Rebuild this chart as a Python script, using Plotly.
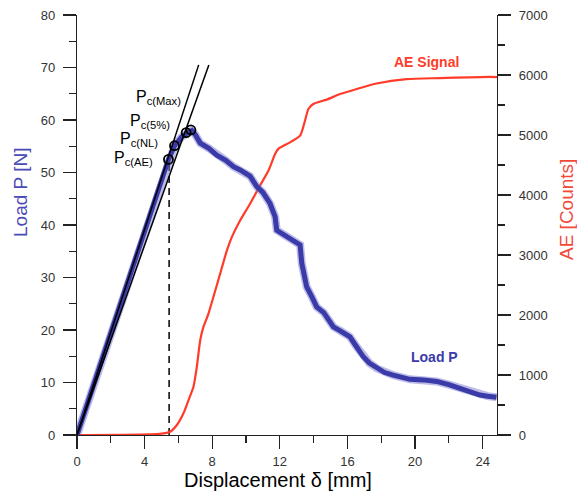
import plotly.graph_objects as go

# Load P vs displacement
disp_load = [0, 1, 2, 3, 4, 5, 5.41, 5.77, 6.2, 6.6, 6.8, 7.0, 7.29, 7.8, 8.27, 8.8, 9.26, 9.65, 10.24,
             10.64, 11.0, 11.42, 11.72, 11.82, 12.2, 12.6, 13.0, 13.2, 13.3, 13.45, 13.59, 13.9, 14.18, 14.6,
             15.17, 15.6, 16.15, 16.5, 16.94, 17.3, 17.73, 18.2, 18.71, 19.7, 20.5, 21.28, 22.0, 22.65, 23.3,
             23.84, 24.3, 24.82]
load_p = [0, 9.7, 19.4, 29.1, 38.8, 48.5, 52.5, 55.1, 56.8, 57.7, 58.0, 57.2, 55.6, 54.6, 53.3, 52.3, 51.1,
          50.5, 49.3, 47.3, 46.2, 44.1, 41.6, 39.0, 38.2, 37.5, 36.6, 36.2, 32.7, 30.0, 28.2, 26.3, 24.4, 23.3,
          20.6, 19.8, 18.7, 17.0, 14.9, 13.7, 12.7, 11.9, 11.4, 10.6, 10.5, 10.2, 9.6, 8.9, 8.3, 7.6, 7.4, 7.2]

# AE signal (cumulative counts)
disp_ae = [0, 4.9, 5.51, 5.91, 6.30, 6.60, 6.89, 7.09, 7.29, 7.48, 7.78, 8.07, 8.47, 8.87, 9.16, 9.65,
           10.24, 10.83, 11.33, 11.72, 11.91, 12.61, 13.2, 13.49, 13.69, 13.98, 14.77, 15.56, 16.55,
           17.73, 19.5, 21.47, 24.43, 24.85]
ae_counts = [0, 20, 55, 166, 361, 582, 803, 1136, 1580, 1801, 2024, 2300, 2689, 3077, 3298, 3575,
             3853, 4158, 4407, 4685, 4768, 4878, 4989, 5238, 5433, 5516, 5590, 5682, 5766,
             5859, 5932, 5949, 5970, 5965]

# Critical load points
pc_labels = ["P<sub>c(AE)</sub>", "P<sub>c(NL)</sub>", "P<sub>c(5%)</sub>", "P<sub>c(Max)</sub>"]
pc_disp = [5.41, 5.77, 6.46, 6.74]
pc_load = [52.5, 55.1, 57.6, 58.1]
pc_label_x = [4.63, 4.92, 5.61, 6.28]
pc_label_y = [52.6, 56.2, 59.8, 64.2]

# Compliance lines (initial and 5% offset)
fit1_x = [0, 7.2]
fit1_y = [0, 70.5]
fit2_x = [0, 7.8]
fit2_y = [0, 70.5]

# Onset of AE (dashed marker line)
ae_onset_x = [5.45, 5.45]
ae_onset_y = [0, 52.5]

BLUE = "#3a3aa8"
RED = "#ff3b2a"
FONT = "Arial, Liberation Sans, sans-serif"

fig = go.Figure()

fig.add_trace(go.Scatter(x=ae_onset_x, y=ae_onset_y, mode="lines",
                         line=dict(color="black", width=1.5, dash="7px,5px"),
                         xaxis="x", yaxis="y", showlegend=False))

fig.add_trace(go.Scatter(x=disp_ae, y=ae_counts, mode="lines",
                         line=dict(color=RED, width=2.2, shape="spline", smoothing=0.6),
                         xaxis="x", yaxis="y2", showlegend=False))

fig.add_trace(go.Scatter(x=disp_load, y=load_p, mode="lines",
                         line=dict(color="#7a7ad0", width=8), opacity=0.5,
                         xaxis="x", yaxis="y3", showlegend=False))
fig.add_trace(go.Scatter(x=disp_load, y=load_p, mode="lines",
                         line=dict(color=BLUE, width=5),
                         xaxis="x", yaxis="y3", showlegend=False))

fig.add_trace(go.Scatter(x=fit1_x, y=fit1_y, mode="lines", line=dict(color="black", width=1.5),
                         xaxis="x", yaxis="y3", showlegend=False))
fig.add_trace(go.Scatter(x=fit2_x, y=fit2_y, mode="lines", line=dict(color="black", width=1.5),
                         xaxis="x", yaxis="y3", showlegend=False))

fig.add_trace(go.Scatter(x=pc_disp, y=pc_load, mode="markers",
                         marker=dict(symbol="circle-open", size=9, color="black", line=dict(width=1.8)),
                         xaxis="x", yaxis="y3", showlegend=False))

for lab, lx, ly in zip(pc_labels, pc_label_x, pc_label_y):
    fig.add_annotation(x=lx, y=ly, xref="x", yref="y", text=lab, showarrow=False,
                       xanchor="right", yanchor="middle",
                       font=dict(family=FONT, size=16, color="black"))

# Series labels
fig.add_annotation(x=(426.7 - 76.7) / 16.92, y=(435 - 61.7) / 5.25, xref="x", yref="y",
                   text="<b>AE Signal</b>", showarrow=False, xanchor="center", yanchor="middle",
                   font=dict(family=FONT, size=14, color=RED))
fig.add_annotation(x=(435 - 76.7) / 16.92, y=(435 - 356.7) / 5.25, xref="x", yref="y",
                   text="<b>Load P</b>", showarrow=False, xanchor="center", yanchor="middle",
                   font=dict(family=FONT, size=14, color=BLUE))

# Page body margin is removed in the page (post_script), so the figure fills the window exactly
W, H = 577, 493
L, R, T, B = 77, 80, 15, 58
pw, ph = W - L - R, H - T - B

def px_to_paper(px, py):
    return (px - L) / pw, (H - B - py) / ph

# Axis titles as annotations for exact placement (page pixel positions)
for text, (px, py), ang, size, col in [
    ("Load P [N]", (20, 193), -90, 19, "#4a4ab8"),
    ("AE [Counts]", (566, 210), -90, 19, "#f04a3a"),
    ("Displacement δ [mm]", (278, 480), 0, 20, "black"),
]:
    ax, ay = px_to_paper(px, py)
    fig.add_annotation(x=ax, y=ay, xref="paper", yref="paper", text=text, showarrow=False,
                       xanchor="center", yanchor="middle",
                       textangle=ang, font=dict(family=FONT, size=size, color=col))

tickfont = dict(family=FONT, size=13, color="#333333")

fig.update_layout(
    template="none",
    width=W, height=H,
    margin=dict(l=L, r=R, t=T, b=B, autoexpand=False),
    paper_bgcolor="white", plot_bgcolor="white",
    xaxis=dict(range=[0, 24.85], tickvals=[0, 4, 8, 12, 16, 20, 24], ticks="outside", ticklen=13,
               tickwidth=1.2, tickcolor="#222", showline=True, linecolor="#222", linewidth=1.2,
               showgrid=False, zeroline=False, tickfont=tickfont, automargin=False,
               ticklabelstandoff=1, ticklabeloverflow="allow",
               minor=dict(dtick=2, tick0=0, ticks="outside", ticklen=7, tickcolor="#222", tickwidth=1.2,
                          showgrid=False)),
    yaxis=dict(range=[0, 80], dtick=10, ticks="outside", ticklen=13, tickwidth=1.2, tickcolor="#222",
               showline=True, linecolor="#222", linewidth=1.2, showgrid=False, zeroline=False,
               tickfont=tickfont, automargin=False, ticklabelstandoff=5, ticklabeloverflow="allow",
               minor=dict(dtick=5, ticks="outside", ticklen=7, tickcolor="#222", tickwidth=1.2,
                          showgrid=False)),
    yaxis2=dict(range=[0, 7000], dtick=1000, overlaying="y", side="right", anchor="x",
                ticks="outside", ticklen=13, tickwidth=1.2, tickcolor="#222",
                showline=True, linecolor="#222", linewidth=1.2, showgrid=False, zeroline=False,
                tickfont=tickfont, automargin=False, ticklabelstandoff=5, ticklabeloverflow="allow",
                minor=dict(dtick=500, ticks="outside", ticklen=7, tickcolor="#222", tickwidth=1.2,
                           showgrid=False)),
    yaxis3=dict(range=[0, 80], overlaying="y", visible=False, anchor="x", automargin=False),
    showlegend=False,
    hovermode=False,
)

fig.write_html(
    "out.html",
    config={"displayModeBar": False, "staticPlot": True},
    post_script=("document.documentElement.style.margin='0';document.body.style.margin='0';"
                 "document.body.style.overflow='hidden';document.documentElement.style.overflow='hidden';"),
)
